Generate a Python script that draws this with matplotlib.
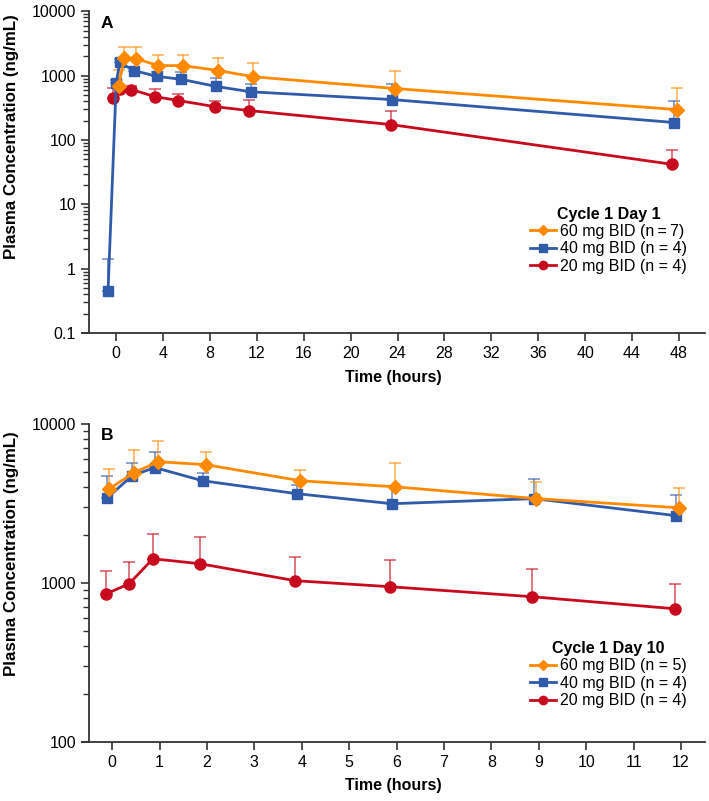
import numpy as np
import matplotlib.pyplot as plt
from matplotlib.ticker import LogLocator, NullFormatter, FuncFormatter

plt.rcParams['font.family'] = ['Liberation Sans', 'DejaVu Sans']

ORANGE = '#FF8A00'
BLUE = '#2F5BAA'
RED = '#C80A1E'

# Panel A: Cycle 1 Day 1 (hours, ng/mL, upper error bar top)
a60_t = [0.2, 0.7, 1.7, 3.6, 5.7, 8.7, 11.7, 23.8, 47.8]
a60_v = [700, 1900, 1830, 1430, 1430, 1200, 960, 630, 297]
a60_up = [1240, 2800, 2800, 2100, 2100, 1850, 1590, 1200, 650]

a40_t = [-0.7, 0.0, 0.3, 1.5, 3.5, 5.5, 8.5, 11.5, 23.5, 47.6]
a40_v = [0.45, 780, 1600, 1200, 970, 880, 680, 560, 425, 187]
a40_up = [1.4, 850, 1830, 1330, 1150, 1150, 930, 750, 730, 400]

a20_t = [-0.25, 0.3, 1.3, 3.3, 5.3, 8.4, 11.3, 23.4, 47.4]
a20_v = [456, 630, 607, 472, 410, 330, 287, 174, 42]
a20_up = [650, 660, 680, 610, 510, 400, 420, 280, 70]

# Panel B: Cycle 1 Day 10
b60_t = [-0.06, 0.46, 0.97, 1.97, 3.97, 5.97, 8.95, 11.95]
b60_v = [3900, 4920, 5770, 5530, 4380, 4010, 3380, 2960]
b60_up = [5200, 6860, 7800, 6660, 5130, 5690, 4320, 3960]

b40_t = [-0.1, 0.42, 0.9, 1.91, 3.9, 5.9, 8.9, 11.9]
b40_v = [3420, 4710, 5300, 4380, 3630, 3140, 3380, 2640]
b40_up = [4710, 5690, 6660, 4900, 4100, 4070, 4510, 3580]

b20_t = [-0.13, 0.36, 0.86, 1.86, 3.86, 5.86, 8.85, 11.87]
b20_v = [850, 985, 1415, 1316, 1030, 944, 817, 686]
b20_up = [1190, 1355, 2030, 1950, 1460, 1395, 1225, 985]

labels_a = ['60 mg BID (n\u2009=\u20097)', '40 mg BID (n = 4)', '20 mg BID (n = 4)']
labels_b = ['60 mg BID (n = 5)', '40 mg BID (n = 4)', '20 mg BID (n = 4)']


def draw_series(ax, t, v, up, color, marker, ms, label):
    v = np.array(v)
    err = np.array(up) - v
    ax.errorbar(t, v, yerr=[np.zeros_like(v), err], fmt='none',
                ecolor=color, alpha=0.65, elinewidth=1.2, capsize=4,
                capthick=1.2, zorder=2)
    line, = ax.plot(t, v, color=color, lw=2, marker=marker, ms=ms,
                    label=label, zorder=3)
    return line


def style_axes(ax, xticks, xlim, spine_x, ylim, letter, title, labels,
               handles, leg_anchor, ylab_y):
    ax.set_yscale('log')
    ax.set_ylim(ylim)
    ax.set_xlim(xlim)
    ax.set_xticks(xticks)
    ax.yaxis.set_major_locator(LogLocator(base=10, numticks=10))
    ax.yaxis.set_minor_locator(LogLocator(base=10, subs=np.arange(2, 10),
                                          numticks=20))
    ax.yaxis.set_minor_formatter(NullFormatter())
    ax.yaxis.set_major_formatter(FuncFormatter(lambda y, p: f'{y:g}'))
    for s in ['top', 'right']:
        ax.spines[s].set_visible(False)
    for s in ['left', 'bottom']:
        ax.spines[s].set_linewidth(1.3)
        ax.spines[s].set_color('#333333')
    ax.spines['left'].set_position(('data', spine_x))
    ax.tick_params(axis='both', which='major', length=6, width=1.2,
                   labelsize=11.5, color='#333333')
    ax.tick_params(axis='y', which='minor', length=4, width=1.0,
                   color='#333333')
    ax.set_xlabel('Time (hours)', fontsize=11.5, fontweight='bold',
                  labelpad=6)
    ax.set_ylabel('Plasma Concentration (ng/mL)', fontsize=12.2,
                  fontweight='bold')
    ax.yaxis.set_label_coords(-0.101, ylab_y)
    ax.text(0.03, 0.985, letter, transform=ax.transAxes, fontsize=12.5,
            fontweight='bold', va='top', ha='left')
    leg = ax.legend(handles, labels, loc='lower right',
                    bbox_to_anchor=leg_anchor, frameon=False,
                    title=title, fontsize=11.5, handlelength=1.6,
                    handletextpad=0.3, labelspacing=0.15, borderpad=0.2,
                    markerscale=0.75)
    leg.get_title().set_fontweight('bold')
    leg.get_title().set_fontsize(11.5)


fig = plt.figure(figsize=(7.09, 8.01), dpi=100)
axA = fig.add_axes([0.116, 0.584, 0.878, 0.402])
axB = fig.add_axes([0.116, 0.074, 0.878, 0.397])

r = draw_series(axA, a20_t, a20_v, a20_up, RED, 'o', 8, labels_a[2])
b = draw_series(axA, a40_t, a40_v, a40_up, BLUE, 's', 7.5, labels_a[1])
o = draw_series(axA, a60_t, a60_v, a60_up, ORANGE, 'D', 7, labels_a[0])
style_axes(axA, np.arange(0, 49, 4), (-2.9, 50.2), -2.3, (0.1, 10000), 'A',
           'Cycle 1 Day 1', labels_a, [o, b, r], (0.99, 0.15), 0.612)

r = draw_series(axB, b20_t, b20_v, b20_up, RED, 'o', 8, labels_b[2])
b = draw_series(axB, b40_t, b40_v, b40_up, BLUE, 's', 7.5, labels_b[1])
o = draw_series(axB, b60_t, b60_v, b60_up, ORANGE, 'D', 7, labels_b[0])
style_axes(axB, np.arange(0, 13, 1), (-0.63, 12.5), -0.48, (100, 10000), 'B',
           'Cycle 1 Day 10', labels_b, [o, b, r], (0.99, 0.07), 0.59)

fig.savefig('out.png', dpi=100)
